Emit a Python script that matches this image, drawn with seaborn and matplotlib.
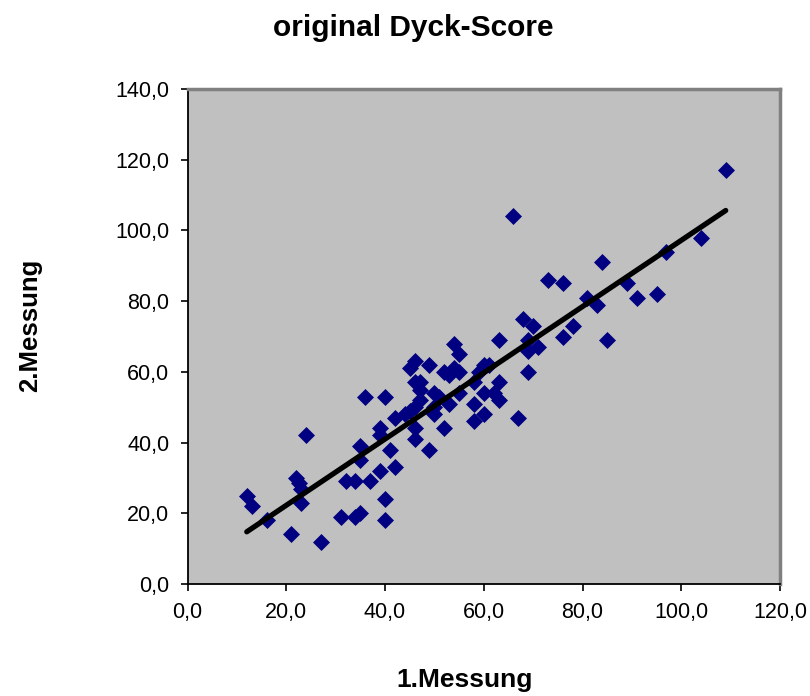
import pandas as pd
import matplotlib
matplotlib.use("Agg")
import matplotlib.pyplot as plt
import seaborn as sns
from matplotlib.ticker import FuncFormatter

# Werte (1. und 2. Messung)
messung1 = [12, 13, 16, 21, 22, 22.5, 23, 23, 24, 27,
            31, 32, 34, 34, 35, 35, 35, 36, 37, 39,
            39, 39, 40, 40, 40, 41, 42, 42, 44, 45,
            45, 46, 46, 47, 47, 47, 46, 46, 46, 49,
            49, 50, 51, 50, 50, 52, 52, 53, 54, 55,
            54, 55, 55, 53, 58, 58, 58, 59, 60, 60,
            60, 62, 61, 63, 63, 63, 66, 67, 68, 69,
            69, 69, 70, 71, 73, 76, 76, 78, 81, 83,
            84, 85, 89, 91, 95, 97, 104, 109]
messung2 = [25, 22, 18, 14, 30, 28.5, 27, 23, 42, 12,
            19, 29, 19, 29, 20, 39, 35, 53, 29, 32,
            44, 42, 24, 18, 53, 38, 33, 47, 48, 49,
            61, 63, 57, 57, 55, 52, 50, 44, 41, 62,
            38, 54, 53, 48, 50, 60, 44, 51, 68, 65,
            61, 60, 54, 59, 57, 51, 46, 60, 62, 54,
            48, 54, 62, 69, 57, 52, 104, 47, 75, 69,
            66, 60, 73, 67, 86, 85, 70, 73, 81, 79,
            91, 69, 85, 81, 82, 94, 98, 117]

df = pd.DataFrame({"m1": messung1, "m2": messung2})

sns.set_style("white")
plt.rcParams['font.family'] = ['Liberation Sans', 'DejaVu Sans']
plt.rcParams['text.color'] = 'black'

fig = plt.figure(figsize=(8.1, 6.96), dpi=100)
ax = fig.add_axes([0.2315, 0.161, 0.7315, 0.711])
ax.set_facecolor("#C0C0C0")

sns.regplot(data=df, x="m1", y="m2", ax=ax, ci=None, marker="D",
            scatter_kws=dict(s=75, color="#000080", linewidths=0, alpha=1, zorder=2),
            line_kws=dict(color="black", linewidth=3.8, solid_capstyle="round", zorder=3))

ax.set_xlim(0, 120)
ax.set_ylim(0, 140)
ax.set_xticks(range(0, 121, 20))
ax.set_yticks(range(0, 141, 20))
fmt = FuncFormatter(lambda v, p: f"{v:.1f}".replace(".", ","))
ax.xaxis.set_major_formatter(fmt)
ax.yaxis.set_major_formatter(fmt)
ax.tick_params(axis="both", direction="out", length=5, width=1.2, colors="black",
               labelsize=15.5, bottom=True, left=True, pad=8)

for side in ["left", "bottom"]:
    ax.spines[side].set_color("black")
    ax.spines[side].set_linewidth(1.3)
for side in ["top", "right"]:
    ax.spines[side].set_color("#808080")
    ax.spines[side].set_linewidth(2.5)

ax.set_xlabel("")
ax.set_ylabel("")
fig.text(0.51, 0.96, "original Dyck-Score", ha="center", va="center",
         fontsize=21.5, fontweight="bold")
fig.text(0.574, 0.023, "1.Messung", ha="center", va="center",
         fontsize=19, fontweight="bold")
fig.text(0.037, 0.533, "2.Messung", ha="center", va="center", rotation=90,
         fontsize=18.5, fontweight="bold")

fig.savefig("out.png", dpi=100)
